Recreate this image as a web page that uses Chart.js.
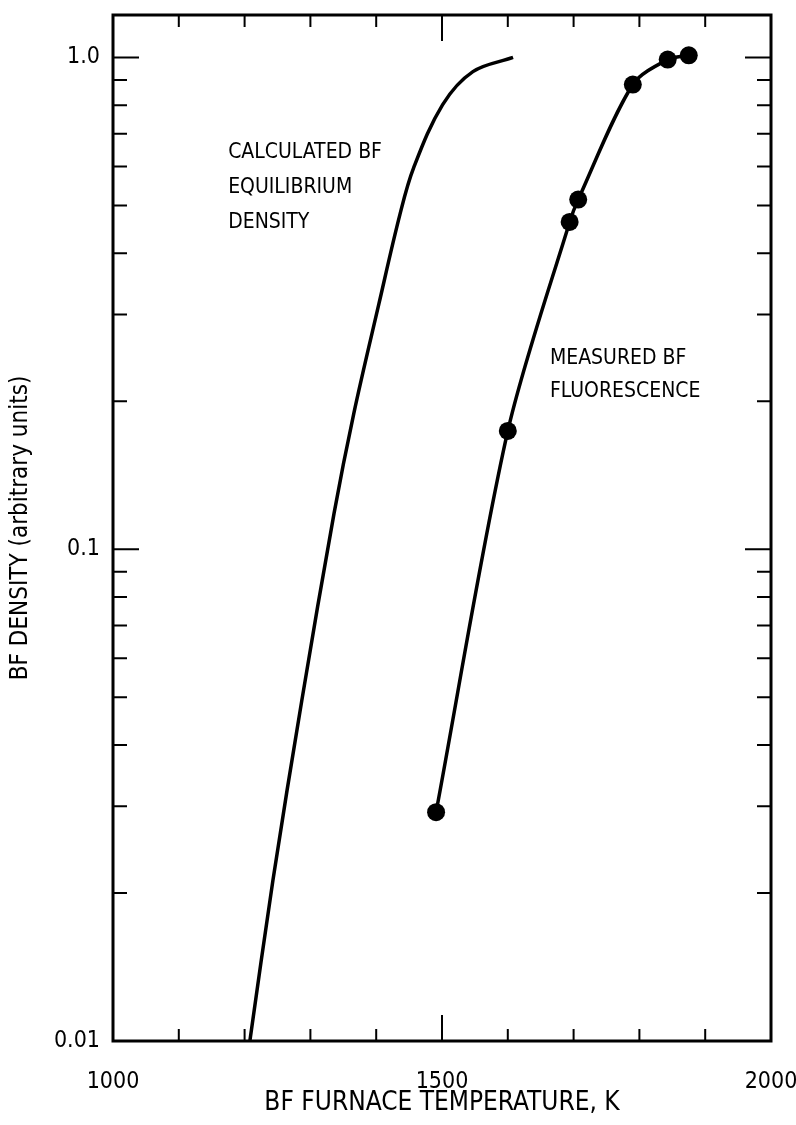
<!DOCTYPE html>
<html>
<head>
<meta charset="UTF-8">
<title>BF density</title>
<script src="https://cdn.jsdelivr.net/npm/chart.js"></script>
<style>
  body { margin: 0; background: #fff; }
  #wrap { width: 796px; height: 1125px; }
</style>
</head>
<body>
<div id="wrap"><canvas id="grafik"></canvas></div>
<script>
// calculated BF equilibrium density (curve)
const calcTemp = [1208, 1243, 1287, 1336, 1366, 1404, 1436, 1457, 1501, 1547, 1608];
const calcDensity = [0.01, 0.0212, 0.0493, 0.1184, 0.189, 0.315, 0.479, 0.597, 0.802, 0.936, 1.0];

// measured BF fluorescence (points)
const measTemp = [1491, 1600, 1694, 1707, 1790, 1843, 1875];
const measDensity = [0.0292, 0.174, 0.463, 0.514, 0.881, 0.99, 1.01];

const xTicks = [1000, 1100, 1200, 1300, 1400, 1500, 1600, 1700, 1800, 1900, 2000];
const xLabels = {1000: '1000', 1500: '1500', 2000: '2000'};
const yTicks = [0.01, 0.02, 0.03, 0.04, 0.05, 0.06, 0.07, 0.08, 0.09,
                0.1, 0.2, 0.3, 0.4, 0.5, 0.6, 0.7, 0.8, 0.9, 1.0];
const yLabels = {0.01: '0.01', 0.1: '0.1', 1: '1.0'};

const calcLabel = ['CALCULATED BF', 'EQUILIBRIUM', 'DENSITY'];
const measLabel = ['MEASURED BF', 'FLUORESCENCE'];

const schrift = "'Liberation Sans Narrow', 'DejaVu Sans Condensed', sans-serif";

function paare(xs, ys) {
  return xs.map((x, i) => ({x: x, y: ys[i]}));
}

// frame, inside tick marks and curve labels
const rahmen = {
  id: 'rahmen',
  beforeDatasetsDraw(chart) {
    const {ctx, chartArea: a, scales: {x, y}} = chart;
    ctx.save();
    ctx.strokeStyle = '#000';
    ctx.lineWidth = 3;
    ctx.strokeRect(a.left, a.top, a.right - a.left, a.bottom - a.top);
    ctx.lineWidth = 2;
    xTicks.forEach(v => {
      const px = x.getPixelForValue(v);
      const len = xLabels[v] ? 26 : 12;
      ctx.beginPath();
      ctx.moveTo(px, a.bottom); ctx.lineTo(px, a.bottom - len);
      ctx.moveTo(px, a.top); ctx.lineTo(px, a.top + len);
      ctx.stroke();
    });
    yTicks.forEach(v => {
      const py = y.getPixelForValue(v);
      const len = yLabels[v] ? 26 : 14;
      ctx.beginPath();
      ctx.moveTo(a.left, py); ctx.lineTo(a.left + len, py);
      ctx.moveTo(a.right, py); ctx.lineTo(a.right - len, py);
      ctx.stroke();
    });
    ctx.fillStyle = '#000';
    ctx.font = '21px ' + schrift;
    ctx.textBaseline = 'alphabetic';
    let lx = x.getPixelForValue(1175), ly = y.getPixelForValue(0.626);
    calcLabel.forEach((t, i) => ctx.fillText(t, lx, ly + i * 35));
    lx = x.getPixelForValue(1664); ly = y.getPixelForValue(0.238);
    measLabel.forEach((t, i) => ctx.fillText(t, lx, ly + i * 33));
    ctx.restore();
  }
};

new Chart(document.getElementById('grafik'), {
  type: 'line',
  data: {
    datasets: [{
      label: 'Calculated BF equilibrium density',
      data: paare(calcTemp, calcDensity),
      borderColor: '#000',
      borderWidth: 3.5,
      pointRadius: 0,
      tension: 0.35
    }, {
      label: 'Measured BF fluorescence',
      data: paare(measTemp, measDensity),
      borderColor: '#000',
      backgroundColor: '#000',
      borderWidth: 3.5,
      pointRadius: 9,
      pointBackgroundColor: '#000',
      pointBorderWidth: 0,
      tension: 0.3
    }]
  },
  options: {
    responsive: true,
    maintainAspectRatio: false,
    animation: false,
    layout: { padding: { top: 15, right: 25, left: 0, bottom: 0 } },
    plugins: { legend: { display: false }, tooltip: { enabled: false } },
    scales: {
      x: {
        type: 'linear',
        min: 1000,
        max: 2000,
        afterBuildTicks: s => { s.ticks = xTicks.map(v => ({value: v})); },
        afterFit: s => { s.height = 84; s.paddingLeft = 0; s.paddingRight = 0; },
        grid: { display: false },
        border: { display: false },
        ticks: {
          autoSkip: false,
          maxRotation: 0,
          padding: 19,
          color: '#000',
          font: { family: schrift, size: 23 },
          callback: v => xLabels[v] || ''
        },
        title: {
          display: true,
          text: 'BF FURNACE TEMPERATURE, K',
          color: '#000',
          font: { family: schrift, size: 26 },
          padding: { top: 0, bottom: 6 }
        }
      },
      y: {
        type: 'logarithmic',
        min: 0.01,
        max: 1.22,
        afterBuildTicks: s => { s.ticks = yTicks.map(v => ({value: v})); },
        afterFit: s => { s.width = 113; s.paddingTop = 0; s.paddingBottom = 0; },
        grid: { display: false },
        border: { display: false },
        ticks: {
          autoSkip: false,
          padding: 5,
          color: '#000',
          font: { family: schrift, size: 23 },
          callback: v => yLabels[Math.round(v * 100) / 100] || ''
        },
        title: {
          display: true,
          text: 'BF DENSITY (arbitrary units)',
          color: '#000',
          font: { family: schrift, size: 24 },
          padding: { top: 6, bottom: 0 }
        }
      }
    }
  },
  plugins: [rahmen]
});
</script>
</body>
</html>
